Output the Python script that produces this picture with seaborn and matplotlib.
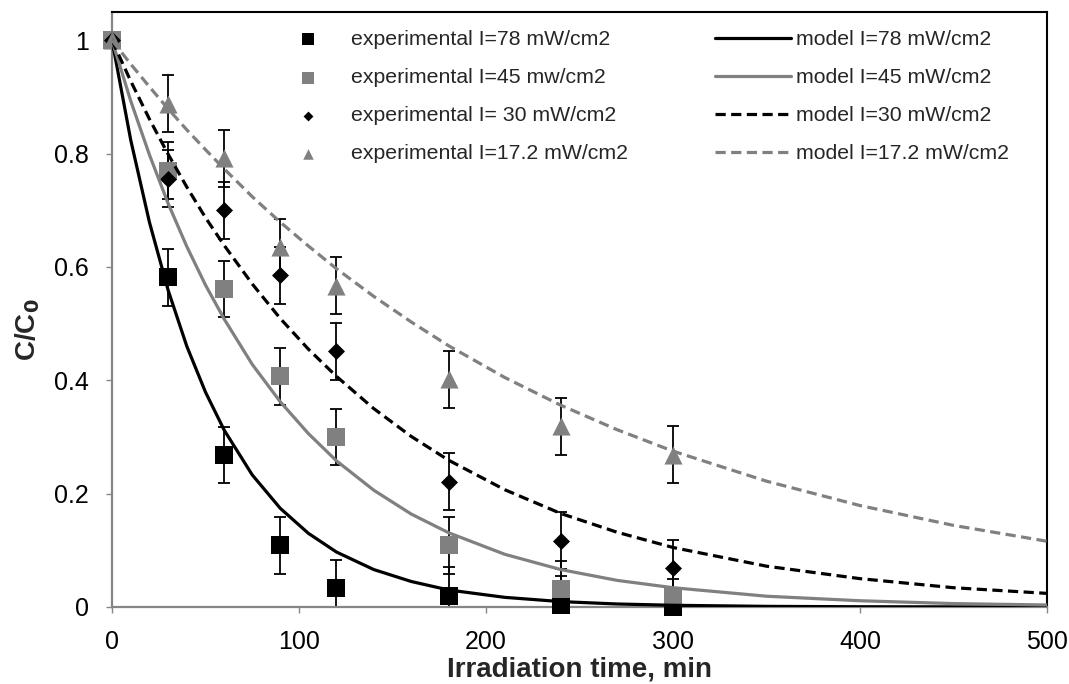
import numpy as np
import pandas as pd
import seaborn as sns
import matplotlib.pyplot as plt

# experimental points (C/C0) with +/- error
t_exp = [0, 30, 60, 90, 120, 180, 240, 300]
exp_78 = [1.0, 0.582, 0.268, 0.109, 0.033, 0.020, 0.004, 0.0]
exp_45 = [1.0, 0.770, 0.561, 0.407, 0.300, 0.109, 0.031, 0.018]
exp_30 = [1.0, 0.756, 0.700, 0.585, 0.451, 0.221, 0.117, 0.068]
exp_17 = [1.0, 0.888, 0.792, 0.635, 0.567, 0.402, 0.319, 0.269]
err_78 = [0.05, 0.05, 0.05, 0.05, 0.05, 0.05, 0.05]
err_45 = [0.05, 0.05, 0.05, 0.05, 0.05, 0.05, 0.05]
err_30 = [0.05, 0.05, 0.05, 0.05, 0.05, 0.05, 0.05]
err_17 = [0.05, 0.05, 0.05, 0.05, 0.05, 0.05, 0.05]

# model curves
t_mod = [0, 10, 20, 30, 40, 50, 60, 75, 90, 105, 120, 140, 160, 180, 210,
         240, 270, 300, 350, 400, 450, 500]
mod_78 = [1.0, 0.824, 0.679, 0.559, 0.460, 0.379, 0.312, 0.233, 0.174, 0.130,
          0.097, 0.066, 0.045, 0.030, 0.017, 0.0095, 0.0053, 0.003, 0.0011,
          0.0004, 0.0002, 0.0001]
mod_45 = [1.0, 0.893, 0.798, 0.712, 0.636, 0.568, 0.508, 0.428, 0.362, 0.306,
          0.258, 0.206, 0.164, 0.131, 0.093, 0.066, 0.047, 0.034, 0.019,
          0.011, 0.006, 0.0035]
mod_30 = [1.0, 0.928, 0.861, 0.799, 0.741, 0.687, 0.638, 0.570, 0.509, 0.455,
          0.407, 0.350, 0.301, 0.259, 0.207, 0.165, 0.132, 0.105, 0.072,
          0.050, 0.034, 0.024]
mod_17 = [1.0, 0.958, 0.918, 0.879, 0.842, 0.807, 0.773, 0.724, 0.679, 0.637,
          0.597, 0.548, 0.503, 0.461, 0.405, 0.356, 0.313, 0.275, 0.222,
          0.179, 0.144, 0.116]

exp_labels = ['experimental I=78 mW/cm2', 'experimental I=45 mw/cm2',
              'experimental I= 30 mW/cm2', 'experimental I=17.2 mW/cm2']
mod_labels = ['model I=78 mW/cm2', 'model I=45 mW/cm2',
              'model I=30 mW/cm2', 'model I=17.2 mW/cm2']

sns.set_style('white')
plt.rcParams['font.family'] = ['Liberation Sans', 'DejaVu Sans']

fig = plt.figure(figsize=(10.69, 6.84), dpi=100)
ax = fig.add_axes([0.1048, 0.1126, 0.8746, 0.8699])

black, gray = '#000000', '#808080'
exp_sets = [(exp_78, err_78, 's', black, 187),
            (exp_45, err_45, 's', gray, 187),
            (exp_30, err_30, 'D', black, 75),
            (exp_17, err_17, '^', gray, 170)]

# error bars first, then markers
for vals, err, m, c, s in exp_sets:
    ax.errorbar(t_exp[1:], vals[1:], yerr=err, fmt='none', ecolor='black',
                elinewidth=1.3, capsize=4, capthick=1.3, zorder=2)
for (vals, err, m, c, s), lab in zip(exp_sets, exp_labels):
    sns.scatterplot(x=t_exp, y=vals, marker=m, color=c, s=s, linewidth=0,
                    label=lab, ax=ax, zorder=3, clip_on=False)

mod_sets = [(mod_78, black, '-'), (mod_45, gray, '-'),
            (mod_30, black, (0, (3.2, 1.7))), (mod_17, gray, (0, (3.2, 1.7)))]
for (vals, c, ls), lab in zip(mod_sets, mod_labels):
    sns.lineplot(x=t_mod, y=vals, color=c, linestyle=ls, linewidth=2.3,
                 label=lab, ax=ax, zorder=4)

ax.set_xlim(0, 500)
ax.set_ylim(0, 1.05)
ax.set_xticks([0, 100, 200, 300, 400, 500])
ax.set_yticks([0, 0.2, 0.4, 0.6, 0.8, 1.0])
ax.set_yticklabels(['0', '0.2', '0.4', '0.6', '0.8', '1'])

for side in ['top', 'right']:
    ax.spines[side].set_color('black')
    ax.spines[side].set_linewidth(1.5)
for side in ['left', 'bottom']:
    ax.spines[side].set_color('#868686')
    ax.spines[side].set_linewidth(1.6)
ax.tick_params(axis='both', direction='out', length=4.5, width=1.0,
               color='#868686', labelsize=18, pad=12, labelcolor='black',
               left=True, bottom=True)

ax.set_xlabel('Irradiation time, min', fontsize=20, fontweight='bold', labelpad=2)
ax.set_ylabel('C/C$_\\mathbf{0}$', fontsize=20, fontweight='bold')
ax.yaxis.set_label_coords(-0.075, 0.466)

h, l = ax.get_legend_handles_labels()
ax.legend(h, l, ncol=2, loc='upper left', bbox_to_anchor=(270 / 1069, 1 - 30 / 684),
          bbox_transform=fig.transFigure, frameon=False, fontsize=15.3,
          markerscale=0.58, handlelength=3.6, handletextpad=0.2,
          columnspacing=4.1, labelspacing=0.9, borderpad=0, borderaxespad=0)

fig.savefig('out.png', dpi=100)
